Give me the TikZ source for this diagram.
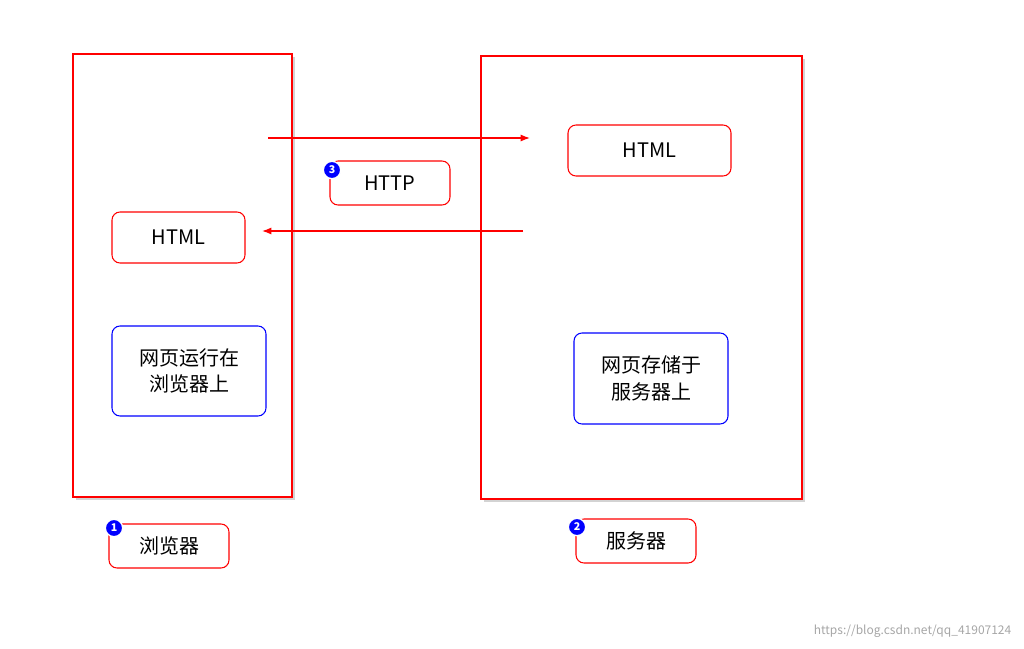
\documentclass[tikz,border=0pt]{standalone}
\usepackage{fontspec}
\setmainfont{Noto Sans CJK SC}
\usetikzlibrary{positioning, fit, arrows.meta, shadows}

\begin{document}
\begin{tikzpicture}[x=0.75pt, y=-0.75pt,
		bigbox/.style={rectangle, draw=red, line width=1.2pt, fill=white, drop shadow={opacity=0.35, shadow xshift=2pt, shadow yshift=-2pt}},
		redbox/.style={rectangle, draw=red, rounded corners=6pt, line width=0.8pt, font=\fontsize{15}{18}\selectfont, inner sep=0pt},
		bluebox/.style={rectangle, draw=blue, rounded corners=6pt, line width=0.8pt, font=\fontsize{15}{20}\selectfont, align=center, inner sep=0pt},
		badge/.style={circle, draw=white, fill=blue, text=white, inner sep=0pt, minimum size=13pt, line width=1pt, font=\fontsize{8}{8}\selectfont\bfseries},
		>=Latex
	]
	\useasboundingbox (0,0) rectangle (1024,649);

	\node[bigbox, minimum width=219*0.75pt, minimum height=443*0.75pt] (browser) at (182.5,275.5) {};
	\node[bigbox, minimum width=321*0.75pt, minimum height=443*0.75pt] (server) at (641.5,277.5) {};

	\node[redbox, minimum width=163*0.75pt, minimum height=51*0.75pt] (shtml) at (649.5,150.5) {HTML};
	\node[redbox, minimum width=133*0.75pt, minimum height=51*0.75pt] (bhtml) at (178.5,237.5) {HTML};
	\node[redbox, minimum width=120*0.75pt, minimum height=44*0.75pt] (http) at (390,183) {HTTP};
	\node[bluebox, minimum width=154*0.75pt, minimum height=90*0.75pt] (brun) at (189,371) {网页运行在\\浏览器上};
	\node[bluebox, minimum width=154*0.75pt, minimum height=91*0.75pt] (sstore) at (651,378.5) {网页存储于\\服务器上};
	\node[redbox, minimum width=120*0.75pt, minimum height=44*0.75pt] (blabel) at (169,546) {浏览器};
	\node[redbox, minimum width=120*0.75pt, minimum height=44*0.75pt] (slabel) at (636,541) {服务器};

	\node[badge] (b1) at (114,528) {1};
	\node[badge] (b2) at (577,527) {2};
	\node[badge] (b3) at (332,170) {3};

	\coordinate (reqstart) at (268,138);
	\coordinate (reqend) at (530,138);
	\coordinate (resstart) at (523,231);
	\coordinate (resend) at (262,231);

	\draw[->, red, line width=0.9pt] (reqstart) -- (reqend);
	\draw[->, red, line width=0.9pt] (resstart) -- (resend);

	\node[anchor=east, text=gray!70, font=\fontsize{9}{10}\selectfont] (mark) at (1016,631) {https://blog.csdn.net/qq\_41907124};
\end{tikzpicture}
\end{document}
